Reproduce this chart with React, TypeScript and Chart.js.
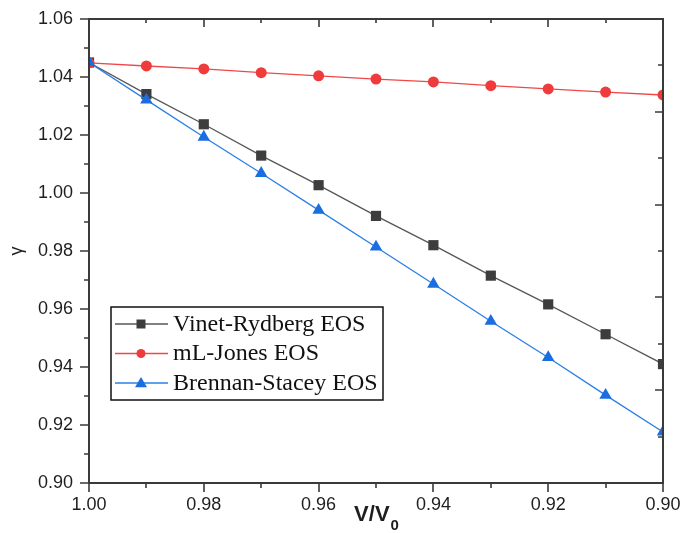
import React, { useEffect, useRef } from "react";
import { Chart, registerables } from "chart.js";

Chart.register(...registerables);

const volumeRatio = [1.0, 0.99, 0.98, 0.97, 0.96, 0.95, 0.94, 0.93, 0.92, 0.91, 0.9];
const vinetRydberg = [1.045, 1.0341, 1.0237, 1.0129, 1.0027, 0.9921, 0.982, 0.9715, 0.9616, 0.9513, 0.941];
const mlJones = [1.0449, 1.0438, 1.0428, 1.0415, 1.0404, 1.0393, 1.0383, 1.037, 1.0359, 1.0348, 1.0338];
const brennanStacey = [1.045, 1.0321, 1.0193, 1.0068, 0.9941, 0.9814, 0.9686, 0.9558, 0.9433, 0.9303, 0.9176];

const seriesNames = ["Vinet-Rydberg EOS", "mL-Jones EOS", "Brennan-Stacey EOS"];

const xTickValues = [1.0, 0.98, 0.96, 0.94, 0.92, 0.9];
const xMinorValues = [0.99, 0.97, 0.95, 0.93, 0.91];
const yTickValues = [0.9, 0.92, 0.94, 0.96, 0.98, 1.0, 1.02, 1.04, 1.06];
const yMinorValues = [0.91, 0.93, 0.95, 0.97, 0.99, 1.01, 1.03, 1.05];

const AXIS_COLOR = "#3a3a3a";
const TEXT_COLOR = "#1e1e1e";

function drawMarker(ctx: CanvasRenderingContext2D, style: string, x: number, y: number, r: number) {
  ctx.beginPath();
  if (style === "rect") {
    ctx.rect(x - r, y - r, 2 * r, 2 * r);
  } else if (style === "circle") {
    ctx.arc(x, y, r, 0, Math.PI * 2);
  } else {
    ctx.moveTo(x, y - r * 1.0);
    ctx.lineTo(x + r, y + r * 0.7);
    ctx.lineTo(x - r, y + r * 0.7);
    ctx.closePath();
  }
  ctx.fill();
}

export default function App() {
  const ref = useRef<HTMLCanvasElement>(null);

  useEffect(() => {
    const canvas = ref.current!;
    const toPts = (ys: number[]) => volumeRatio.map((x, i) => ({ x, y: ys[i] }));

    const framePlugin = {
      id: "frame",
      afterDatasetsDraw(chart: any) {
        const { ctx, chartArea: a, scales } = chart;
        const xs = scales.x;
        const ys = scales.y;
        ctx.save();
        ctx.strokeStyle = AXIS_COLOR;
        ctx.lineWidth = 1.6;
        ctx.beginPath();
        const line = (x1: number, y1: number, x2: number, y2: number) => {
          ctx.moveTo(x1, y1);
          ctx.lineTo(x2, y2);
        };
        xTickValues.forEach((v) => {
          const px = Math.round(xs.getPixelForValue(v));
          line(px, a.bottom, px, a.bottom + 9);
          line(px, a.top, px, a.top + 8);
        });
        xMinorValues.forEach((v) => {
          const px = Math.round(xs.getPixelForValue(v));
          line(px, a.bottom, px, a.bottom + 5);
          line(px, a.top, px, a.top + 4);
        });
        yTickValues.forEach((v) => {
          const py = Math.round(ys.getPixelForValue(v));
          line(a.left - 9, py, a.left, py);
        });
        yMinorValues.forEach((v) => {
          const py = Math.round(ys.getPixelForValue(v));
          line(a.left - 5, py, a.left, py);
        });
        for (let i = 1; i < 10; i++) {
          const py = Math.round(a.top + ((a.bottom - a.top) * i) / 10);
          line(a.right - (i % 2 === 0 ? 8 : 5), py, a.right, py);
        }
        ctx.stroke();
        ctx.lineWidth = 2;
        ctx.strokeRect(a.left, a.top, a.right - a.left, a.bottom - a.top);
        ctx.restore();
      },
      afterDraw(chart: any) {
        const { ctx, chartArea: a } = chart;
        ctx.save();
        // y title
        ctx.fillStyle = TEXT_COLOR;
        ctx.font = "18px 'Liberation Sans'";
        ctx.textAlign = "center";
        ctx.textBaseline = "alphabetic";
        ctx.translate(22, (a.top + a.bottom) / 2);
        ctx.rotate(-Math.PI / 2);
        ctx.fillText("γ", 0, 0);
        ctx.setTransform(1, 0, 0, 1, 0, 0);

        // x title with subscript
        const cx = (a.left + a.right) / 2;
        ctx.font = "bold 22px 'Liberation Sans'";
        const w1 = ctx.measureText("V/V").width;
        ctx.font = "bold 15px 'Liberation Sans'";
        const w2 = ctx.measureText("0").width;
        const sx = cx - (w1 + w2) / 2;
        ctx.textAlign = "left";
        ctx.font = "bold 22px 'Liberation Sans'";
        ctx.fillText("V/V", sx, 521);
        ctx.font = "bold 15px 'Liberation Sans'";
        ctx.fillText("0", sx + w1 + 1, 530);

        // legend
        const lx = a.left + 22;
        const ly = a.top + 288;
        const lw = 272;
        const lh = 93;
        ctx.fillStyle = "#ffffff";
        ctx.fillRect(lx, ly, lw, lh);
        ctx.strokeStyle = "#111111";
        ctx.lineWidth = 1.5;
        ctx.strokeRect(lx, ly, lw, lh);
        chart.data.datasets.forEach((ds: any, i: number) => {
          const cy = ly + 17 + i * 29.5;
          ctx.strokeStyle = ds.borderColor;
          ctx.lineWidth = 1.3;
          ctx.beginPath();
          ctx.moveTo(lx + 4, cy);
          ctx.lineTo(lx + 57, cy);
          ctx.stroke();
          ctx.fillStyle = ds.pointBackgroundColor;
          drawMarker(ctx, ds.pointStyle, lx + 30, cy, ds.pointStyle === "triangle" ? 6 : 4.5);
          ctx.fillStyle = "#111111";
          ctx.font = "24px 'Liberation Serif'";
          ctx.textAlign = "left";
          ctx.textBaseline = "middle";
          ctx.fillText(ds.label, lx + 62, cy + 0.5);
        });
        ctx.restore();
      },
    };

    const chart = new Chart(canvas, {
      type: "line",
      data: {
        datasets: [
          {
            label: seriesNames[0],
            data: toPts(vinetRydberg),
            borderColor: "#575757",
            borderWidth: 1.3,
            pointStyle: "rect",
            pointRadius: 7.2,
            pointBackgroundColor: "#3d3d3d",
            pointBorderColor: "#3d3d3d",
            pointBorderWidth: 0,
            order: 2,
            clip: 0,
          },
          {
            label: seriesNames[1],
            data: toPts(mlJones),
            borderColor: "#f04848",
            borderWidth: 1.3,
            pointStyle: "circle",
            pointRadius: 5.5,
            pointBackgroundColor: "#ef3b3b",
            pointBorderColor: "#ef3b3b",
            pointBorderWidth: 0,
            order: 1,
            clip: 0,
          },
          {
            label: seriesNames[2],
            data: toPts(brennanStacey),
            borderColor: "#2a7fe6",
            borderWidth: 1.3,
            pointStyle: "triangle",
            pointRadius: 7.2,
            pointBackgroundColor: "#1a6ee0",
            pointBorderColor: "#1a6ee0",
            pointBorderWidth: 0,
            order: 0,
            clip: 0,
          },
        ] as any,
      },
      options: {
        responsive: false,
        maintainAspectRatio: false,
        animation: false,
        events: [],
        layout: { padding: { top: 19, right: 19, left: 0, bottom: 0 } },
        plugins: { legend: { display: false }, tooltip: { enabled: false } },
        scales: {
          x: {
            type: "linear",
            reverse: true,
            min: 0.9,
            max: 1.0,
            grid: { display: false, drawTicks: false },
            border: { display: false },
            afterBuildTicks: (s: any) => {
              s.ticks = xTickValues.map((v) => ({ value: v }));
            },
            afterFit: (s: any) => {
              s.height = 50;
              s.paddingLeft = 0;
              s.paddingRight = 0;
            },
            ticks: {
              autoSkip: false,
              maxRotation: 0,
              padding: 11,
              color: TEXT_COLOR,
              font: { family: "'Liberation Sans'", size: 18 },
              callback: (v: any) => Number(v).toFixed(2),
            },
          },
          y: {
            type: "linear",
            min: 0.9,
            max: 1.06,
            grid: { display: false, drawTicks: false },
            border: { display: false },
            afterBuildTicks: (s: any) => {
              s.ticks = yTickValues.map((v) => ({ value: v }));
            },
            afterFit: (s: any) => {
              s.width = 89;
              s.paddingTop = 0;
              s.paddingBottom = 0;
            },
            ticks: {
              autoSkip: false,
              padding: 16,
              color: TEXT_COLOR,
              font: { family: "'Liberation Sans'", size: 18 },
              callback: (v: any) => Number(v).toFixed(2),
            },
          },
        },
      } as any,
      plugins: [framePlugin],
    });
    return () => chart.destroy();
  }, []);

  return (
    <div style={{ position: "fixed", left: 0, top: 0, width: 682, height: 533, background: "#fff" }}>
      <canvas ref={ref} width={682} height={533} style={{ width: 682, height: 533 }} />
    </div>
  );
}
